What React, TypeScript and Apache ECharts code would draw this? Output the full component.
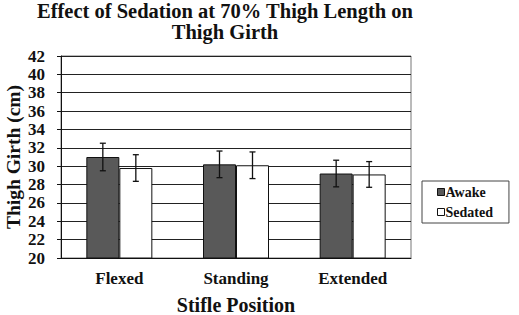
import React, { useEffect, useRef } from "react";
import * as echarts from "echarts";

const categories = ["Flexed", "Standing", "Extended"];
const awake = [31.0, 30.2, 29.2];
const sedated = [29.8, 30.1, 29.1];
const awakeErr = [1.5, 1.45, 1.45];
const sedatedErr = [1.45, 1.45, 1.4];
const seriesNames = ["Awake", "Sedated"];

const FONT = "Liberation Serif";
const BAR_W = 33;

export default function App() {
  const ref = useRef<HTMLDivElement>(null);
  useEffect(() => {
    if (!ref.current) return;
    const chart = echarts.init(ref.current, undefined, { renderer: "svg" });
    const errData = (vals: number[], errs: number[]) =>
      vals.map((v, i) => [i, v - errs[i], v + errs[i]]);
    const errSeries = (name: string, vals: number[], errs: number[], offset: number) => ({
      type: "custom",
      name: name + " err",
      data: errData(vals, errs),
      encode: { x: 0, y: [1, 2] },
      z: 5,
      renderItem: (params: any, api: any) => {
        const i = api.value(0);
        const lo = api.coord([i, api.value(1)]);
        const hi = api.coord([i, api.value(2)]);
        const x = lo[0] + offset;
        const cap = 3;
        const style = { stroke: "#111", lineWidth: 1.3 };
        return {
          type: "group",
          children: [
            { type: "line", shape: { x1: x, y1: lo[1], x2: x, y2: hi[1] }, style },
            { type: "line", shape: { x1: x - cap, y1: lo[1], x2: x + cap, y2: lo[1] }, style },
            { type: "line", shape: { x1: x - cap, y1: hi[1], x2: x + cap, y2: hi[1] }, style },
          ],
        };
      },
    });
    chart.setOption({
      animation: false,
      textStyle: { fontFamily: FONT },
      title: {
        text: "Effect of Sedation at 70% Thigh Length on\nThigh Girth",
        left: 225,
        textAlign: "center",
        top: 0,
        padding: 0,
        textStyle: { fontFamily: FONT, fontWeight: "bold", fontSize: 20.5, lineHeight: 21.5, color: "#111" },
      },
      grid: {
        left: 61,
        top: 56,
        right: 108,
        bottom: 57,
        show: true,
        borderColor: "#777",
        borderWidth: 1,
        containLabel: false,
        outerBoundsMode: "none",
      },
      legend: {
        data: seriesNames,
        orient: "vertical",
        left: 422,
        top: 181,
        padding: [4, 16, 4, 15],
        itemGap: 6,
        itemWidth: 7,
        itemHeight: 7,
        itemStyle: { borderColor: "#111", borderWidth: 1 },
        borderColor: "#444",
        borderWidth: 1,
        textStyle: { fontFamily: FONT, fontWeight: "bold", fontSize: 14, lineHeight: 14, color: "#111", padding: [0, 0, 0, -4] },
        icon: "rect",
      },
      xAxis: {
        type: "category",
        data: categories,
        axisTick: { show: false },
        axisLine: { lineStyle: { color: "#111" } },
        axisLabel: { fontFamily: FONT, fontWeight: "bold", fontSize: 17, color: "#111", margin: 12 },
        name: "Stifle Position",
        nameLocation: "middle",
        nameGap: 37,
        nameMoveOverlap: false,
        nameTextStyle: { fontFamily: FONT, fontWeight: "bold", fontSize: 20, color: "#111" },
      },
      yAxis: {
        type: "value",
        min: 20,
        max: 42,
        interval: 2,
        axisLine: { show: true, lineStyle: { color: "#111" } },
        axisTick: { show: true, length: 4, lineStyle: { color: "#111" } },
        splitLine: { lineStyle: { color: "#222" } },
        axisLabel: { fontFamily: FONT, fontWeight: "bold", fontSize: 17, color: "#111", margin: 16 },
        name: "Thigh Girth (cm)",
        nameLocation: "middle",
        nameGap: 38,
        nameMoveOverlap: false,
        nameTextStyle: { fontFamily: FONT, fontWeight: "bold", fontSize: 19.5, color: "#111" },
      },
      series: [
        {
          name: seriesNames[0],
          type: "bar",
          data: awake,
          barWidth: BAR_W,
          barGap: "0%",
          itemStyle: { color: "#595959", borderColor: "#111", borderWidth: 1 },
        },
        {
          name: seriesNames[1],
          type: "bar",
          data: sedated,
          barWidth: BAR_W,
          barGap: "0%",
          itemStyle: { color: "#ffffff", borderColor: "#111", borderWidth: 1 },
        },
        errSeries(seriesNames[0], awake, awakeErr, -BAR_W / 2),
        errSeries(seriesNames[1], sedated, sedatedErr, BAR_W / 2),
      ],
    });
    return () => chart.dispose();
  }, []);
  return <div ref={ref} style={{ width: 519, height: 315, position: "absolute", left: 0, top: 0 }} />;
}
